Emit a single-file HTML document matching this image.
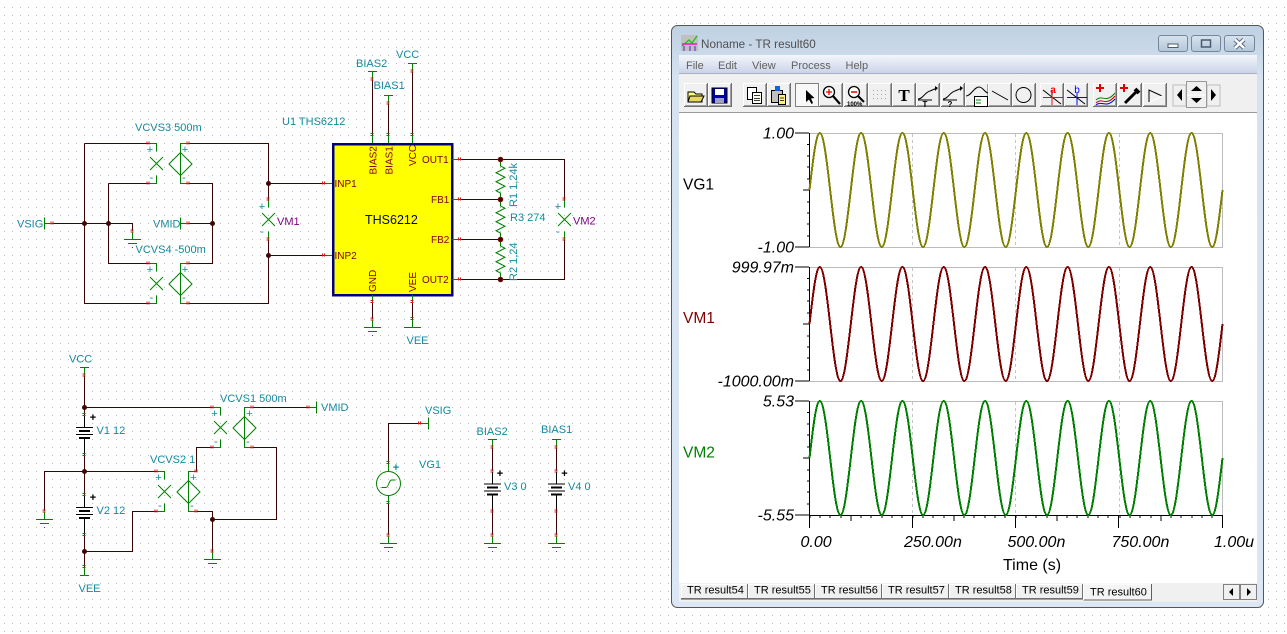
<!DOCTYPE html>
<html lang="en">
<head>
<meta charset="utf-8">
<title>THS6212 circuit and TR result</title>
<style>
html,body{margin:0;padding:0;background:#fff;width:1287px;height:634px;overflow:hidden}
svg{display:block}
text{font-family:"Liberation Sans",sans-serif;white-space:pre}
.t{font-size:11px;fill:#14899f}
.p{font-size:11px;fill:#800080}
.pin{font-size:10px;fill:#800000}
.sg{font-size:11px;fill:#14899f;text-anchor:middle}
.bp{font-size:11px;fill:#000;font-weight:bold;text-anchor:middle}
.w{fill:none;stroke:#3a0404;stroke-width:1;shape-rendering:crispEdges}
.g{fill:none;stroke:#008000;stroke-width:1;shape-rendering:crispEdges}
.ga{fill:none;stroke:#008000;stroke-width:1}
.k{fill:none;stroke:#000;stroke-width:1;shape-rendering:crispEdges}
.kk{fill:none;stroke:#000;stroke-width:2;shape-rendering:crispEdges}
.r{fill:none;stroke:#e01010;stroke-width:1;shape-rendering:crispEdges}
.j{fill:#3f0707}
.v{font-size:16px;font-style:italic;fill:#000}
.vr{font-size:16px;font-style:italic;fill:#000;text-anchor:end}
.m{font-size:11px;fill:#606060}
.tb{font-size:11px;fill:#000}
.ln{fill:none;stroke:#000;stroke-width:1;shape-rendering:crispEdges}
.wave{fill:none;stroke-width:2;vector-effect:non-scaling-stroke;shape-rendering:crispEdges}
</style>
</head>
<body>
<svg width="1287" height="634" viewBox="0 0 1287 634" xmlns="http://www.w3.org/2000/svg">
<defs>
<pattern id="dots" width="8" height="8" patternUnits="userSpaceOnUse"><rect x="4" y="7" width="1" height="1" fill="#bdbdbd"/></pattern>
<linearGradient id="frame" x1="0" y1="0" x2="0" y2="1"><stop offset="0" stop-color="#bfd0e2"/><stop offset=".09" stop-color="#d5e2f0"/><stop offset="1" stop-color="#dbe7f4"/></linearGradient>
<linearGradient id="menu" x1="0" y1="0" x2="0" y2="1"><stop offset="0" stop-color="#f3f6fb"/><stop offset="1" stop-color="#cbd4e8"/></linearGradient>
<linearGradient id="cap" x1="0" y1="0" x2="0" y2="1"><stop offset="0" stop-color="#d8e3ef"/><stop offset="1" stop-color="#b4c5d8"/></linearGradient>

<g id="th"><path class="r" d="M-1.5-2v3M.5-2v3"/></g>
<g id="tv"><path class="r" d="M-2-1.5h3M-2 .5h3"/></g>

<g id="vcvs">
<path class="g" d="M0 0H8V8M0 40H8V32M40 0H32V40H40"/>
<path class="ga" d="M1.5 13.5L14.5 26.5M14.5 13.5L1.5 26.5M32 9L43.5 20.5 32 32 20.5 20.5Z"/>
<use href="#th" x="0" y="0"/><use href="#th" x="0" y="40"/><use href="#th" x="40" y="0"/><use href="#th" x="40" y="40"/>
</g>

<g id="meter">
<path class="g" d="M0 0V8M0 32V40"/>
<path class="ga" d="M-6.5 13.5L6.5 26.5M6.5 13.5L-6.5 26.5"/>
<use href="#tv" x="0" y="0"/><use href="#tv" x="0" y="40"/>
</g>

<g id="gnd">
<path class="g" d="M0-8V0M-8.5 0H8.5M-4.5 4H4.5M0 7.5V8.5"/>
<use href="#tv" x="0" y="-8"/>
</g>
<g id="rail">
<path class="g" d="M-4.5 0H4.5M0 0V8"/>
<use href="#tv" x="0" y="8"/>
</g>
<g id="batt">
<path class="k" d="M0-12V0M0 11V28M-8.5 .5H8.5M-8.5 7.5H8.5"/>
<path class="kk" d="M-5.5 4H5.5M-5.5 11H5.5"/>
<use href="#tv" x="0" y="-12"/><use href="#tv" x="0" y="28"/>
</g>
<path id="zig" class="ga" d="M0 0V6.5L4.5 8.75-4.500 13.250 4.500 17.750-4.500 22.250 4.500 26.750-4.500 31.250 0 33.500V40"/>

<g id="btn">
<rect x="0" y="0" width="24" height="24" fill="#f0f0f0"/>
<path d="M.5 23V.5H23" fill="none" stroke="#fff" shape-rendering="crispEdges"/>
<path d="M0 23.500H23.500V0" fill="none" stroke="#707070" shape-rendering="crispEdges"/>
<path d="M1 22.500H22.500V1" fill="none" stroke="#a0a0a0" shape-rendering="crispEdges"/>
</g>

<g id="ytk">
<path class="ln" d="M795 0H809M807 11.500H809M807 23H809M807 34H809M807 46H809M803 57H809M807 69H809M807 80H809M807 91H809M807 103H809M795 114H809M809.500 0V114"/>
</g>
<g id="xtk">
<path class="ln" d="M810 0V3M820 0V3M830 0V3M841 0V3M851 0V6M861 0V3M871 0V3M882 0V3M892 0V3M902 0V3M912.500 0V13"/>
</g>
<path id="per" class="wave" d="M0 0c.0815-.5123.1595-1 .25-1c.0905 0 .1685.4877.25 1c.0815.5123.1595 1 .25 1c.0905 0 .1685-.4877.25-1"/>
<g id="wv">
<use href="#per" x="0"/><use href="#per" x="1"/><use href="#per" x="2"/><use href="#per" x="3"/><use href="#per" x="4"/><use href="#per" x="5"/><use href="#per" x="6"/><use href="#per" x="7"/><use href="#per" x="8"/><use href="#per" x="9"/>
</g>
<g id="plot">
<rect x="809.500" y=".5" width="413" height="114" fill="none" stroke="#bcbcbc" shape-rendering="crispEdges"/>
<path d="M912.500 1V114M1015.500 1V114M1119.500 1V114" fill="none" stroke="#c4c4c4" stroke-dasharray="3 3" shape-rendering="crispEdges"/>
</g>
</defs>

<rect width="1287" height="634" fill="#fff"/>
<rect width="1287" height="634" fill="url(#dots)"/>

<!-- top-left network -->
<path class="w" d="M84.500 143.500H148.500M84.500 143.500V303.500H148.500M52 223.500H132.500V231M108.500 183.500H148.500M108.500 183.500V263.500H148.500M188.500 143.500H268.500V200M188.500 183.500H212.500V263.500H188.500M188.500 223.500H212.500M268.500 183.500H324M268.500 239V303.500H188.500M268.500 255.500H324"/>
<use href="#vcvs" x="148.500" y="143.500"/>
<use href="#vcvs" x="148.500" y="263.500"/>
<use href="#meter" x="268.500" y="199.500"/>
<path class="g" d="M44.500 217.500V229.500M44.500 223.500H52.500M180.500 217.500V229.500M180.500 223.500H188.500M324 183.500H332M324 255.500H332"/>
<use href="#th" x="52.500" y="223.500"/><use href="#th" x="188.500" y="223.500"/><use href="#th" x="324" y="183.500"/><use href="#th" x="324" y="255.500"/>
<use href="#gnd" x="132.500" y="239.500"/>
<circle class="j" cx="84.500" cy="223.500" r="2.500"/><circle class="j" cx="108.500" cy="223.500" r="2.500"/><circle class="j" cx="212.500" cy="223.500" r="2.500"/><circle class="j" cx="268.500" cy="183.500" r="2.500"/><circle class="j" cx="268.500" cy="255.500" r="2.500"/>
<text class="t" x="17" y="227.500">VSIG</text>
<text class="t" x="135" y="131">VCVS3 500m</text>
<text class="t" x="282" y="125">U1 THS6212</text>
<text class="t" x="153" y="227.500">VMID</text>
<text class="t" x="135.500" y="253">VCVS4 -500m</text>
<text class="p" x="277" y="225">VM1</text>
<text class="sg" x="150" y="153">+</text><text class="sg" x="151.500" y="181">-</text><text class="sg" x="185" y="153">+</text><text class="sg" x="184" y="181">-</text>
<text class="sg" x="150" y="273">+</text><text class="sg" x="151.500" y="301">-</text><text class="sg" x="185" y="273">+</text><text class="sg" x="184" y="301">-</text>
<text class="sg" x="262" y="210">+</text><text class="sg" x="262" y="235">-</text>

<!-- THS6212 -->
<path class="w" d="M372.500 79V135M388.500 103V135M412.500 71V135M372.500 302V319M412.500 302V319M460 159.500H564.500V199.500M460 199.500H500.500M460 239.500H500.500M460 279.500H564.500V239.500"/>
<rect x="333" y="144" width="119" height="151" fill="#ffff00" stroke="#000080" stroke-width="2.500" shape-rendering="crispEdges"/>
<path class="g" d="M372.500 135V143M388.500 135V143M412.500 135V143M372.500 295V302M412.500 295V302M452 159.500H460M452 199.500H460M452 239.500H460M452 279.500H460"/>
<use href="#rail" x="372.500" y="71.500"/><use href="#rail" x="388.500" y="95.500"/><use href="#rail" x="412.500" y="63.500"/>
<use href="#tv" x="372.500" y="135"/><use href="#tv" x="388.500" y="135"/><use href="#tv" x="412.500" y="135"/>
<use href="#tv" x="372.500" y="302"/><use href="#tv" x="412.500" y="302"/>
<use href="#th" x="460" y="159.500"/><use href="#th" x="460" y="199.500"/><use href="#th" x="460" y="239.500"/><use href="#th" x="460" y="279.500"/>
<use href="#gnd" x="372.500" y="327.500"/>
<path class="g" d="M412.500 319V327.500M404 327.500H421"/><use href="#tv" x="412.500" y="319"/>
<use href="#zig" x="500.500" y="159.500"/><use href="#zig" x="500.500" y="199.500"/><use href="#zig" x="500.500" y="239.500"/>
<g fill="#400606" stroke="#a01010" stroke-width=".6"><circle cx="500.500" cy="159.500" r="2.500"/><circle cx="500.500" cy="199.500" r="2.500"/><circle cx="500.500" cy="239.500" r="2.500"/><circle cx="500.500" cy="279.500" r="2.500"/></g>
<use href="#meter" x="564.500" y="199.500"/>
<text class="t" x="356" y="67">BIAS2</text>
<text class="t" x="373.500" y="89">BIAS1</text>
<text class="t" x="396" y="58">VCC</text>
<text class="t" x="406.500" y="344">VEE</text>
<text class="pin" x="334.500" y="187">INP1</text>
<text class="pin" x="334.500" y="259">INP2</text>
<text class="pin" x="422" y="163">OUT1</text>
<text class="pin" x="431" y="203">FB1</text>
<text class="pin" x="431" y="243">FB2</text>
<text class="pin" x="422" y="283">OUT2</text>
<text class="pin" transform="translate(376.500 174.500) rotate(-90)">BIAS2</text>
<text class="pin" transform="translate(392.500 174.500) rotate(-90)">BIAS1</text>
<text class="pin" transform="translate(416 166) rotate(-90)">VCC</text>
<text class="pin" transform="translate(376 292) rotate(-90)">GND</text>
<text class="pin" transform="translate(416 292) rotate(-90)">VEE</text>
<text x="365" y="224" style="font-size:12.500px;fill:#000080">THS6212</text>
<text class="t" transform="translate(517 207) rotate(-90)">R1 1,24k</text>
<text class="t" transform="translate(517 281) rotate(-90)">R2 1,24</text>
<text class="t" x="510" y="221">R3 274</text>
<text class="p" x="573" y="224.500">VM2</text>
<text class="sg" x="558" y="210">+</text><text class="sg" x="558" y="235">-</text>

<!-- bottom-left supply -->
<path class="w" d="M84.500 375V415M84.500 455V495M84.500 535V567M84.500 407.500H212.500M44.500 511V471.500H156.500M156.500 511.500H132.500V551.500H84.500M212.500 447.500H196.500V471.500M252.500 407.500H308.500M252.500 447.500H276.500V519.500H212.500M196.500 511.500H212.500V551.500"/>
<use href="#rail" x="84.500" y="367.500"/>
<use href="#batt" x="84.500" y="427"/>
<use href="#batt" x="84.500" y="507"/>
<path class="g" d="M84.500 567V575M80 575.500H89"/><use href="#tv" x="84.500" y="567"/>
<use href="#vcvs" x="212.500" y="407.500"/>
<use href="#vcvs" x="156.500" y="471.500"/>
<path class="g" d="M308.500 407.500H316.500M316.500 401.500V413.500"/><use href="#th" x="308.500" y="407.500"/>
<use href="#gnd" x="44.500" y="519.500"/>
<use href="#gnd" x="212.500" y="559.500"/>
<circle class="j" cx="84.500" cy="407.500" r="2.500"/><circle class="j" cx="84.500" cy="471.500" r="2.500"/><circle class="j" cx="84.500" cy="551.500" r="2.500"/><circle class="j" cx="212.500" cy="519.500" r="2.500"/>
<text class="t" x="69" y="362.500">VCC</text>
<text class="t" x="78.500" y="592">VEE</text>
<text class="t" x="96.500" y="434">V1 12</text>
<text class="t" x="96.500" y="514">V2 12</text>
<text class="t" x="220" y="402">VCVS1 500m</text>
<text class="t" x="150" y="463">VCVS2 1</text>
<text class="t" x="321" y="411">VMID</text>
<text class="bp" x="93" y="421">+</text><text class="bp" x="93" y="501">+</text>
<text class="sg" x="214.500" y="417">+</text><text class="sg" x="216" y="445">-</text><text class="sg" x="249.500" y="417">+</text><text class="sg" x="248" y="445">-</text>
<text class="sg" x="158.500" y="481">+</text><text class="sg" x="160" y="509">-</text><text class="sg" x="193.500" y="481">+</text><text class="sg" x="192" y="509">-</text>

<!-- sources -->
<path class="w" d="M420 423.500H388.500V463M388.500 503V535M492.500 447V471M492.500 511V535M556.500 447V471M556.500 511V535"/>
<path class="g" d="M420 423.500H428.500M428.500 417.500V429.500M388.500 463V471.500M388.500 495.500V503"/>
<use href="#th" x="420" y="423.500"/><use href="#tv" x="388.500" y="463"/><use href="#tv" x="388.500" y="503"/>
<circle cx="388.500" cy="483.500" r="12" fill="none" stroke="#008000"/>
<path class="ga" d="M381.500 487.500H386C388.500 487.500 389 480 391.500 480H395.500"/>
<use href="#gnd" x="388.500" y="543.500"/>
<use href="#rail" x="492.500" y="439.500"/><use href="#batt" x="492.500" y="483.500"/><use href="#gnd" x="492.500" y="543.500"/>
<use href="#rail" x="556.500" y="439.500"/><use href="#batt" x="556.500" y="483.500"/><use href="#gnd" x="556.500" y="543.500"/>
<text class="t" x="425" y="414">VSIG</text>
<text class="t" x="419" y="468">VG1</text>
<text class="t" x="476.500" y="435">BIAS2</text>
<text class="t" x="541" y="433">BIAS1</text>
<text class="t" x="504" y="490">V3 0</text>
<text class="t" x="568" y="490">V4 0</text>
<text class="sg" x="396" y="471" style="font-weight:bold">+</text>
<text class="bp" x="500" y="477">+</text><text class="bp" x="564.500" y="477">+</text>

<!-- window -->
<rect x="671.500" y="25.500" width="592" height="582" rx="6" fill="url(#frame)" stroke="#565656"/>
<rect x="679" y="55" width="578" height="547" fill="#fff"/>
<rect x="679" y="55" width="578" height="18" fill="url(#menu)"/>
<rect x="679" y="73" width="578" height="1" fill="#a8b0c0"/>
<rect x="679" y="74" width="578" height="38" fill="#f0f0f0"/>
<rect x="679" y="112" width="578" height="1" fill="#9a9a9a"/>
<rect x="679" y="583" width="578" height="19" fill="#f0f0f0"/>

<!-- title -->
<rect x="681" y="35" width="17" height="16" fill="#c0c0c0"/>
<path d="M682 46L689 40 692 43 697 36" fill="none" stroke="#20c020" stroke-width="1.300"/>
<path d="M682 44H697" stroke="#e020c0" stroke-width="1.500"/>
<path d="M684 46V51M690 46V51M695 46V51" stroke="#6020c0"/>
<text x="701" y="48" style="font-size:11.700px;fill:#505050">Noname - TR result60</text>

<g stroke="#76879c"><rect x="1158.500" y="35.500" width="29" height="16" rx="2.500" fill="url(#cap)"/><rect x="1191.500" y="35.500" width="29" height="16" rx="2.500" fill="url(#cap)"/><rect x="1224.500" y="35.500" width="30" height="16" rx="2.500" fill="url(#cap)"/></g>
<rect x="1168" y="44" width="10" height="3.500" fill="#fff" stroke="#4a5a70"/>
<rect x="1201.500" y="40" width="9" height="7" fill="none" stroke="#4a5a70" stroke-width="1.500"/>
<path d="M1235 39.500L1244 48M1244 39.500L1235 48" stroke="#5a6a80" stroke-width="4.500"/>
<path d="M1235 39.500L1244 48M1244 39.500L1235 48" stroke="#fff" stroke-width="2.500"/>

<text class="m" x="686" y="69">File</text>
<text class="m" x="718" y="69">Edit</text>
<text class="m" x="752" y="69">View</text>
<text class="m" x="791" y="69">Process</text>
<text class="m" x="845.500" y="69">Help</text>

<!-- toolbar -->
<use href="#btn" x="684" y="83"/><use href="#btn" x="708" y="83"/><use href="#btn" x="743" y="83"/><use href="#btn" x="767" y="83"/>
<use href="#btn" x="819" y="83"/><use href="#btn" x="844" y="83"/><use href="#btn" x="868" y="83"/><use href="#btn" x="892" y="83"/><use href="#btn" x="916" y="83"/><use href="#btn" x="941" y="83"/><use href="#btn" x="965" y="83"/><use href="#btn" x="988" y="83"/><use href="#btn" x="1012" y="83"/><use href="#btn" x="1040" y="83"/><use href="#btn" x="1064" y="83"/><use href="#btn" x="1093" y="83"/><use href="#btn" x="1118" y="83"/><use href="#btn" x="1143" y="83"/>
<rect x="795.500" y="83.500" width="23" height="23" fill="#f8f8f8" stroke="#808080"/>
<path d="M806 90V102L809 99.500 811.500 104 813 103 811 98.500 814.500 98Z" fill="#000"/>
<path d="M688 92H694L696 94H702V102L688 102Z" fill="#ffff80" stroke="#000"/>
<path d="M690 96H704L701 102H688Z" fill="#e8d860" stroke="#000"/>
<rect x="712" y="88" width="15" height="15" fill="#0000a0" stroke="#000"/>
<rect x="715" y="89" width="9" height="6" fill="#fff"/><rect x="715" y="98" width="9" height="5" fill="#a0a0c0"/>
<rect x="747.500" y="87.500" width="9" height="12" fill="#fff" stroke="#000"/><rect x="752.500" y="92.500" width="9" height="11" fill="#fffff0" stroke="#000"/><path d="M754 95.500H760M754 98.500H760M754 100.500H760" stroke="#000" stroke-width=".8"/>
<rect x="771.500" y="90.500" width="11" height="12" fill="#c0c0c0" stroke="#000"/><rect x="775" y="86" width="5" height="5" fill="#1060f0"/><rect x="778.500" y="94.500" width="7" height="10" fill="#fff080" stroke="#000"/><path d="M780 98H784M780 100.500H784" stroke="#000" stroke-width=".8"/>
<circle cx="829" cy="92" r="5.500" fill="#fff" stroke="#000" stroke-width="1.300"/><path d="M826 92H832M829 89V95" stroke="#e00000" stroke-width="1.300"/><path d="M833 96L840 104" stroke="#000" stroke-width="2.200"/>
<circle cx="854" cy="92" r="5.500" fill="#fff" stroke="#000" stroke-width="1.300"/><path d="M851 92H857" stroke="#e00000" stroke-width="1.500"/><path d="M858 96L864 102" stroke="#000" stroke-width="2"/>
<text x="847" y="106" style="font-size:6px;font-weight:bold;fill:#000">100%</text>
<g fill="#a8a8a8"><rect x="873" y="90" width="1" height="1"/><rect x="877" y="90" width="1" height="1"/><rect x="881" y="90" width="1" height="1"/><rect x="885" y="90" width="1" height="1"/><rect x="873" y="94" width="1" height="1"/><rect x="877" y="94" width="1" height="1"/><rect x="881" y="94" width="1" height="1"/><rect x="885" y="94" width="1" height="1"/><rect x="873" y="98" width="1" height="1"/><rect x="877" y="98" width="1" height="1"/><rect x="881" y="98" width="1" height="1"/><rect x="885" y="98" width="1" height="1"/></g>
<text x="904" y="101" style="font-family:'Liberation Serif',serif;font-size:17px;font-weight:bold;fill:#000;text-anchor:middle">T</text>
<path d="M918 99C923 99 925 92 930 91L937 88" fill="none" stroke="#000"/><path d="M935 86L938 88 935 91Z" fill="#000"/><path d="M918 100H932" stroke="#000"/>
<text x="925" y="107" style="font-size:8px;font-weight:bold;fill:#000;text-anchor:middle">T</text>
<path d="M943 99C948 99 950 92 955 91L962 88" fill="none" stroke="#000"/><path d="M960 86L963 88 960 91Z" fill="#000"/><path d="M943 100H957" stroke="#000"/>
<text x="950" y="107" style="font-size:8px;font-weight:bold;fill:#000;text-anchor:middle">?</text>
<path d="M966 96C971 96 974 87 979 87C983 87 984 92 988 93" fill="none" stroke="#000"/><rect x="974.500" y="96.500" width="13" height="10" fill="#fff" stroke="#000"/><path d="M976 100H981M976 103H981" stroke="#008000"/>
<path d="M992 91L1008 100" stroke="#000"/>
<circle cx="1023.500" cy="95" r="7.500" fill="none" stroke="#000"/>
<path d="M1043 90L1061 104M1052 90V104" fill="none" stroke="#000"/><path d="M1043 97.500H1063M1052 95V105" stroke="#ff0000"/>
<text x="1053" y="93" style="font-size:10px;font-weight:bold;fill:#ff0000;text-anchor:middle">a</text>
<path d="M1067 90L1085 104" fill="none" stroke="#000"/><path d="M1067 97.500H1087M1077 93V105" stroke="#0000ff"/>
<text x="1077" y="93" style="font-size:10px;fill:#0000ff;text-anchor:middle">b</text>
<path d="M1096 88H1104M1100 84V92" stroke="#e00000" stroke-width="2"/>
<path d="M1096 100C1102 94 1106 104 1115 93" fill="none" stroke="#008000"/><path d="M1096 103C1102 97 1106 107 1115 96" fill="none" stroke="#c00000"/><path d="M1096 105C1102 100 1106 109 1115 99" fill="none" stroke="#0000ff"/>
<path d="M1120 88H1128M1124 84V92" stroke="#e00000" stroke-width="2"/>
<path d="M1125 103L1136 92" stroke="#000" stroke-width="3"/><path d="M1135 89L1139 93" stroke="#000" stroke-width="4"/>
<path d="M1149 102V90L1162 96" fill="none" stroke="#000"/><path d="M1150 102L1162 96" stroke="#fff"/>
<rect x="1173" y="85" width="13" height="21" fill="#f0f0f0" stroke="#bbb"/><path d="M1182 89V101L1177 95Z" fill="#000"/>
<rect x="1207" y="85" width="13" height="21" fill="#f0f0f0" stroke="#bbb"/><path d="M1211 89V101L1216 95Z" fill="#000"/>
<rect x="1186.500" y="81.500" width="20" height="26" fill="#f0f0f0" stroke="#999"/><path d="M1187 95H1206" stroke="#fff"/><path d="M1191 91H1202L1196.500 86ZM1191 98H1202L1196.500 103Z" fill="#000"/>

<!-- plots -->
<use href="#plot" x="0" y="133"/><use href="#plot" x="0" y="267"/><use href="#plot" x="0" y="401"/>
<use href="#ytk" x="0" y="133"/><use href="#ytk" x="0" y="267"/><use href="#ytk" x="0" y="401"/>
<path class="ln" d="M809.500 515.500H1222.500"/>
<use href="#xtk" x="0" y="515"/><use href="#xtk" x="103" y="515"/><use href="#xtk" x="206" y="515"/><use href="#xtk" x="310" y="515"/>
<path class="ln" d="M809.500 515V528"/>
<g transform="translate(809.500 190) scale(41.300 57)"><use href="#wv" stroke="#808000"/></g>
<g transform="translate(809.500 324) scale(41.300 57)"><use href="#wv" stroke="#800000"/></g>
<g transform="translate(809.500 458) scale(41.300 57)"><use href="#wv" stroke="#008000"/></g>

<text x="683" y="189.500" style="font-size:15.500px;fill:#000">VG1</text>
<text x="683" y="323" style="font-size:15.500px;fill:#800000">VM1</text>
<text x="683" y="457.500" style="font-size:15.500px;fill:#008000">VM2</text>
<text class="vr" x="794" y="138.500">1.00</text>
<text class="vr" x="794" y="252.500">-1.00</text>
<text class="vr" x="794" y="272.500">999.97m</text>
<text class="vr" x="794" y="386.500">-1000.00m</text>
<text class="vr" x="794" y="406.500">5.53</text>
<text class="vr" x="794" y="520.500">-5.55</text>
<text class="v" x="800.500" y="547">0.00</text>
<text class="v" x="904" y="547">250.00n</text>
<text class="v" x="1007.500" y="547">500.00n</text>
<text class="v" x="1111.500" y="547">750.00n</text>
<text class="v" x="1214" y="547">1.00u</text>
<text x="1003" y="570" style="font-size:16px;fill:#000">Time (s)</text>

<!-- tabs -->
<g fill="#f0f0f0" stroke="#707070" shape-rendering="crispEdges">
<rect x="681.500" y="584.500" width="66" height="14"/><rect x="748.500" y="584.500" width="66" height="14"/><rect x="815.500" y="584.500" width="66" height="14"/><rect x="882.500" y="584.500" width="66" height="14"/><rect x="949.500" y="584.500" width="66" height="14"/><rect x="1016.500" y="584.500" width="66" height="14"/>
</g>
<g stroke="#fff" fill="none" shape-rendering="crispEdges"><path d="M681.500 598V584.500H747M748.500 598V584.500H814M815.500 598V584.500H881M882.500 598V584.500H948M949.500 598V584.500H1015M1016.500 598V584.500H1082"/></g>
<path d="M681 599.500H1083" stroke="#a0a0a0" shape-rendering="crispEdges"/>
<path d="M1083.500 601V583.500H1151.500V600" fill="#f4f4f4" stroke="none"/>
<path d="M1083.500 600H1151.500V584" fill="none" stroke="#606060" shape-rendering="crispEdges"/>
<path d="M1083.500 600V584H1151" fill="none" stroke="#fff" shape-rendering="crispEdges"/>
<text class="tb" x="687" y="593.500">TR result54</text>
<text class="tb" x="754" y="593.500">TR result55</text>
<text class="tb" x="821" y="593.500">TR result56</text>
<text class="tb" x="888" y="593.500">TR result57</text>
<text class="tb" x="955" y="593.500">TR result58</text>
<text class="tb" x="1022" y="593.500">TR result59</text>
<text class="tb" x="1090" y="595.500">TR result60</text>
<g fill="#f0f0f0" stroke="#808080" shape-rendering="crispEdges"><rect x="1223.500" y="584.500" width="16" height="15"/><rect x="1240.500" y="584.500" width="16" height="15"/></g>
<path d="M1233 588V596L1229 592ZM1247 588V596L1251 592Z" fill="#000"/>
</svg>
</body>
</html>
